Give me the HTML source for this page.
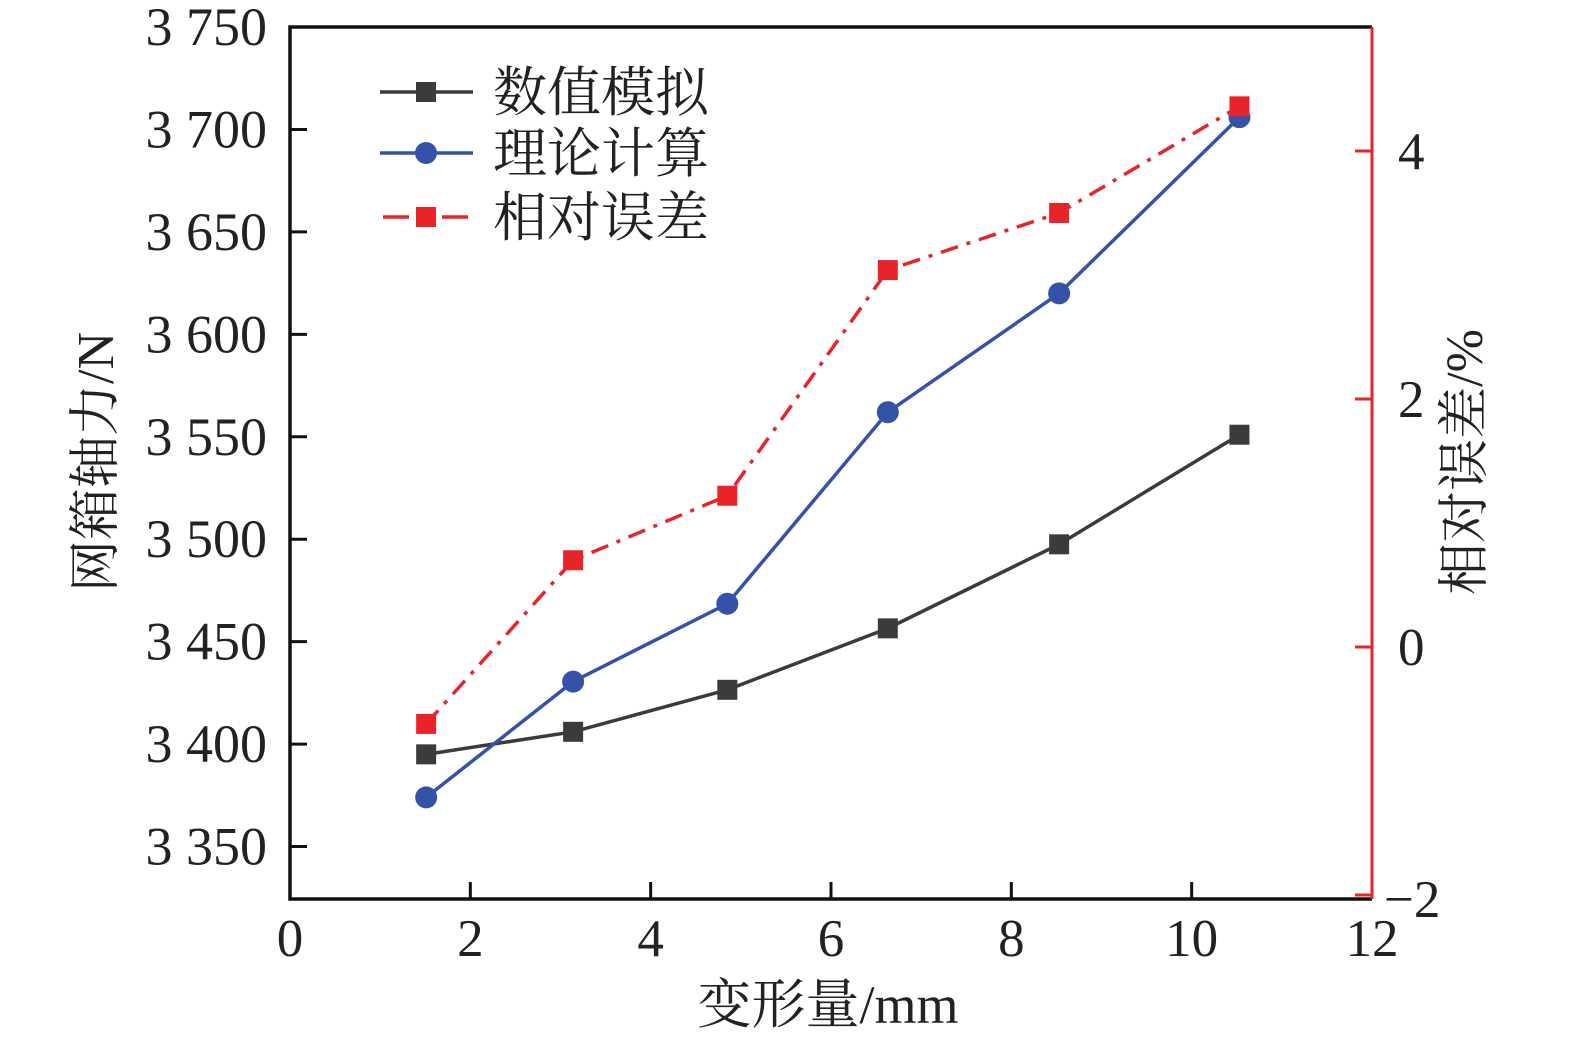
<!DOCTYPE html>
<html><head><meta charset="utf-8"><style>
html,body{margin:0;padding:0;background:#fff;}
svg{display:block;}
.t{font-family:"Liberation Serif","Noto Serif CJK SC",serif;}
</style></head><body>
<svg id="chart" width="1575" height="1044" viewBox="0 0 1575 1044">
<g id="axes"></g><g id="series"></g><g id="legend"></g>
</svg>
<script>
const xValues=[1.51,3.14,4.85,6.63,8.53,10.53];
const simValues=[3395,3406,3426.5,3456.5,3497.5,3551];
const theoryValues=[3374,3430.5,3468.5,3562,3620,3706];
const errorValues=[-0.62,0.70,1.22,3.04,3.50,4.36];
const xTicks=[0,2,4,6,8,10,12];
const yLeftTicks=[3350,3400,3450,3500,3550,3600,3650,3700,3750];
const yLeftLabels=["3 350","3 400","3 450","3 500","3 550","3 600","3 650","3 700","3 750"];
const yRightTicks=[-2,0,2,4];
const yRightLabels=["\u22122","0","2","4"];
const legendLabels=["数值模拟","理论计算","相对误差"];

const L=290,R=1372,T=27,B=899;
const xs=v=>L+(v-0)/12*(R-L);
const yl=v=>B-(v-3324.4)/(3750-3324.4)*(B-T);
const yr=v=>B-(v-(-2.032))/(5.0-(-2.032))*(B-T);
const NS="http://www.w3.org/2000/svg";
function mk(tag,attrs,parent){const e=document.createElementNS(NS,tag);for(const k in attrs)e.setAttribute(k,attrs[k]);parent.appendChild(e);return e;}
const ax=document.getElementById('axes'),se=document.getElementById('series'),lg=document.getElementById('legend');
const RED="#e8232a",BLUE="#3352a8",BLK="#3d3a3a";

let e=mk('path',{d:`M${R},${T} L${L},${T} L${L},${B} L${R},${B}`,fill:'none',stroke:'#111','stroke-width':3.5},ax);

e=mk('line',{x1:R,y1:T,x2:R,y2:B,stroke:RED,'stroke-width':3},ax);


xTicks.forEach(v=>{
  const x=xs(v);
  if(v>0&&v<12){const l=mk('line',{x1:x,y1:B,x2:x,y2:B-17,stroke:'#111','stroke-width':3},ax);
  }
  const t=mk('text',{x:x,y:956,'text-anchor':'middle','font-size':53,fill:'#222',class:'t'},ax);t.textContent=v;
  
});
yLeftTicks.forEach((v,i)=>{
  const y=yl(v);
  if(v<3750){const l=mk('line',{x1:L,y1:y,x2:L+17,y2:y,stroke:'#111','stroke-width':3},ax);
  }
  const t=mk('text',{x:267,y:y+18,'text-anchor':'end','font-size':54,fill:'#222',class:'t'},ax);t.textContent=yLeftLabels[i];
  
});
yRightTicks.forEach((v,i)=>{
  const y=yr(v);
  const l=mk('line',{x1:R,y1:y,x2:R-17,y2:y,stroke:RED,'stroke-width':3},ax);
  
  const t=mk('text',{x:v<0?1384:1398,y:y+18+(v<0?4:0),'text-anchor':'start','font-size':53,fill:'#222',class:'t'},ax);t.textContent=yRightLabels[i];
  
});
e=mk('text',{x:828,y:1023,'text-anchor':'middle','font-size':54,fill:'#222',class:'t'},ax);e.textContent='变形量/mm';

e=mk('text',{x:0,y:0,'text-anchor':'middle','font-size':52,fill:'#222',class:'t',transform:'translate(113,462) rotate(-90)'},ax);e.textContent='网箱轴力/N';

e=mk('text',{x:0,y:0,'text-anchor':'middle','font-size':52,fill:'#222',class:'t',transform:'translate(1482,462) rotate(-90)'},ax);e.textContent='相对误差/%';


function poly(vals,yf,color,dash,name){
  const pts=xValues.map((x,i)=>xs(x)+','+yf(vals[i])).join(' ');
  const a={points:pts,fill:'none',stroke:color,'stroke-width':3.5};
  if(dash)a['stroke-dasharray']=dash;
  const p=mk('polyline',a,se);
  
}
function sq(cx,cy,color,parent,name){const r=mk('rect',{x:cx-10,y:cy-10,width:20,height:20,fill:color},parent);
  }
function ci(cx,cy,color,parent,name){const c=mk('circle',{cx:cx,cy:cy,r:11,fill:color},parent);
  }

poly(errorValues,yr,RED,'18 9 4 9','error');
poly(simValues,yl,BLK,null,'simulation');
poly(theoryValues,yl,BLUE,null,'theory');
xValues.forEach((x,i)=>{
  sq(xs(x),yl(simValues[i]),BLK,se,'simulation-point');
  ci(xs(x),yl(theoryValues[i]),BLUE,se,'theory-point');
  sq(xs(x),yr(errorValues[i]),RED,se,'error-point');
});

const ly=[92,153,217],cols=[BLK,BLUE,RED];
ly.forEach((y,i)=>{
  let l;
  if(i==2){l=mk('path',{d:`M383,${y} L409,${y} M442,${y} L468,${y}`,stroke:RED,'stroke-width':3.5},lg);}
  else l=mk('line',{x1:380,y1:y,x2:473,y2:y,stroke:cols[i],'stroke-width':3.5},lg);
  
  if(i==1)ci(426,y,BLUE,lg,'legend-marker');else sq(426,y,cols[i],lg,'legend-marker');
  const t=mk('text',{x:493,y:y+19,'font-size':54,fill:'#222',class:'t'},lg);t.textContent=legendLabels[i];
  
});
</script>
</body></html>
